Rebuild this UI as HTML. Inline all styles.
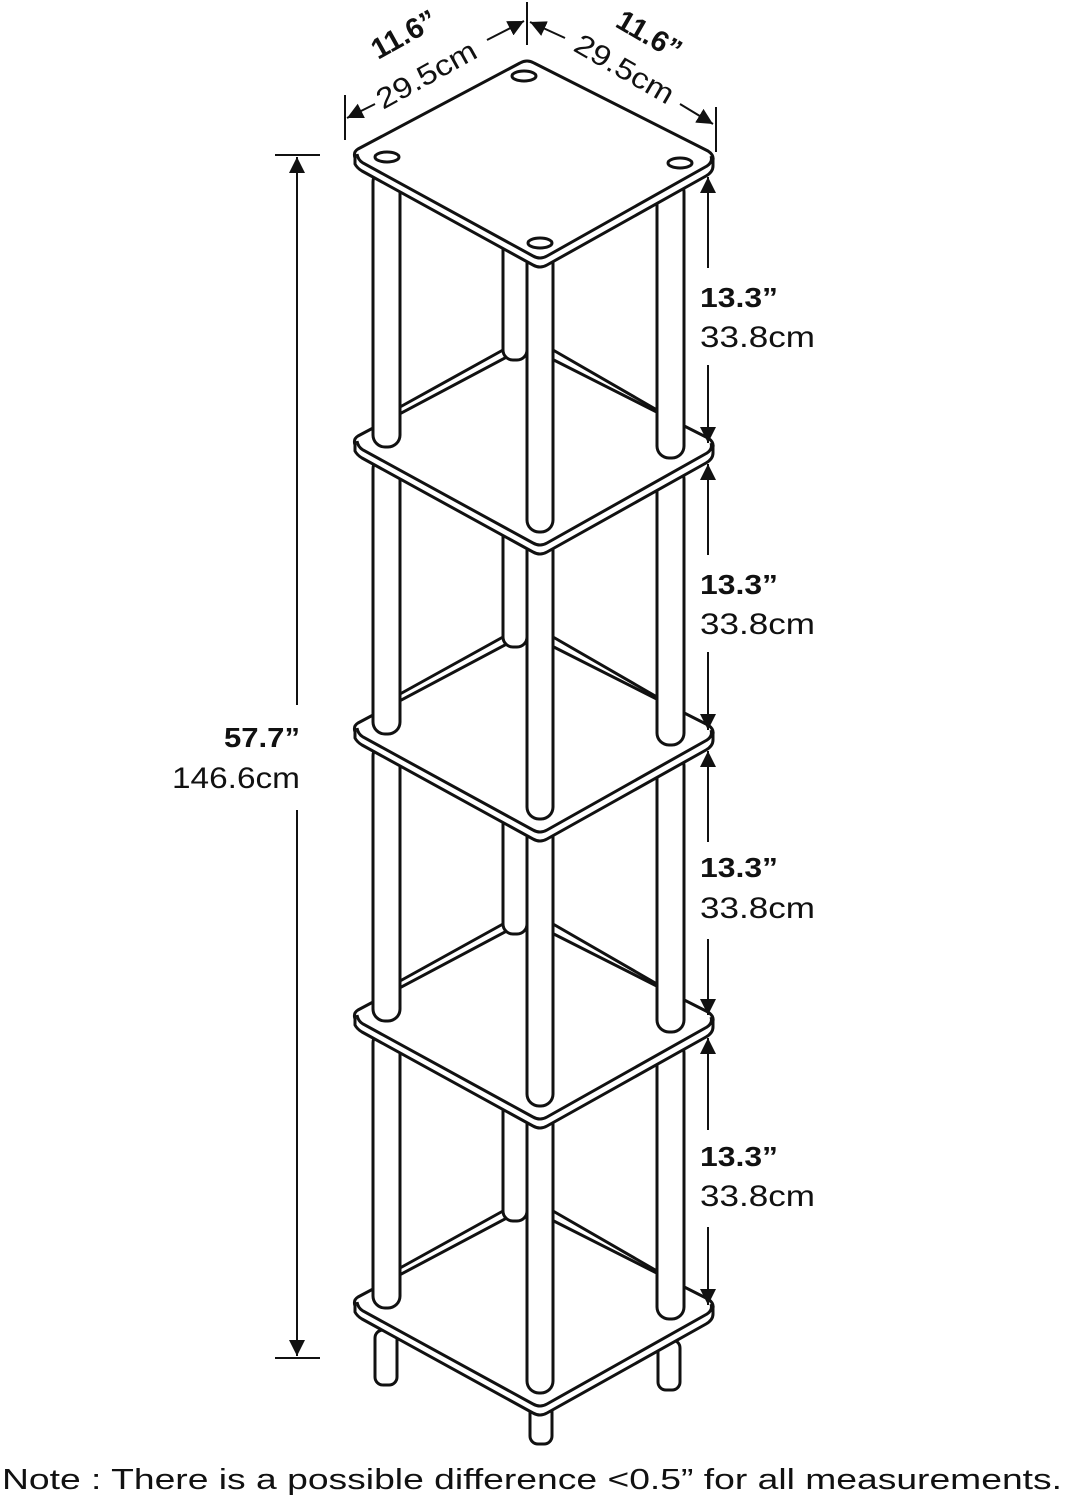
<!DOCTYPE html>
<html><head><meta charset="utf-8"><style>
html,body{margin:0;padding:0;background:#fff;width:1067px;height:1500px;overflow:hidden}
svg{display:block}
text{font-family:"Liberation Sans",sans-serif;fill:#111}
</style></head><body>
<svg width="1067" height="1500" viewBox="0 0 1067 1500" xmlns="http://www.w3.org/2000/svg">
<defs>
<g id="shelf">
 <path d="M358,149 Q353,152 355,158 L355,164 Q357,168 362,171 L533,265 Q540,269 547,265 L706,176 Q713,172 713,166 L713,160 Q714,155 708,151 L534,63 Q527,59 520,63 Z" fill="#fff" stroke="#111" stroke-width="3" stroke-linejoin="round"/>
 <path d="M357,154 Q358,160 363,163 L533,256 Q540,260 547,256 L707,166 Q713,162 711,156" fill="none" stroke="#111" stroke-width="3"/>
</g>
<g id="lvl">
 <path d="M400,407 L503,350 M553,350 L657,410" stroke="#111" stroke-width="3" fill="none"/>
 <rect x="503" y="210" width="24" height="150" rx="10" fill="#fff" stroke="#111" stroke-width="3"/>
 <rect x="373" y="170" width="27" height="277" rx="12" fill="#fff" stroke="#111" stroke-width="3"/>
 <rect x="657" y="180" width="27" height="278" rx="12" fill="#fff" stroke="#111" stroke-width="3"/>
 <rect x="527" y="250" width="26" height="282" rx="12" fill="#fff" stroke="#111" stroke-width="3"/>
 <use href="#shelf"/>
</g>
<marker id="ah" viewBox="0 0 10 10" refX="10" refY="5" markerWidth="8" markerHeight="8" orient="auto-start-reverse"><path d="M0,0 L10,5 L0,10 Z" fill="#111"/></marker>
</defs>

<rect x="375" y="1330" width="22" height="55" rx="8" fill="#fff" stroke="#111" stroke-width="3"/>
<rect x="658" y="1340" width="22" height="50" rx="8" fill="#fff" stroke="#111" stroke-width="3"/>
<rect x="530" y="1400" width="22" height="44" rx="8" fill="#fff" stroke="#111" stroke-width="3"/>

<use href="#shelf" y="1148"/>
<use href="#lvl" y="861"/>
<use href="#lvl" y="574"/>
<use href="#lvl" y="287"/>
<use href="#lvl"/>
<ellipse cx="387" cy="157" rx="12" ry="5" fill="#fff" stroke="#111" stroke-width="3"/>
<ellipse cx="524" cy="76" rx="12" ry="5" fill="#fff" stroke="#111" stroke-width="3"/>
<ellipse cx="680" cy="163" rx="12" ry="5" fill="#fff" stroke="#111" stroke-width="3"/>
<ellipse cx="540" cy="243" rx="12" ry="5" fill="#fff" stroke="#111" stroke-width="3"/>

<g stroke="#111" stroke-width="2">
 <line x1="275" y1="155" x2="320" y2="155"/>
 <line x1="275" y1="1358" x2="320" y2="1358"/>
 <line x1="297" y1="157" x2="297" y2="705" marker-start="url(#ah)"/>
 <line x1="297" y1="810" x2="297" y2="1356" marker-end="url(#ah)"/>
</g>
<text x="224" y="747" font-size="28" font-weight="bold" textLength="76" lengthAdjust="spacingAndGlyphs">57.7”</text>
<text x="172" y="788" font-size="30" textLength="128" lengthAdjust="spacingAndGlyphs">146.6cm</text>

<g stroke="#111" stroke-width="2" fill="none">
 <line x1="708" y1="177" x2="708" y2="268" marker-start="url(#ah)"/>
 <line x1="708" y1="365" x2="708" y2="443" marker-end="url(#ah)"/>
 <line x1="708" y1="464" x2="708" y2="555" marker-start="url(#ah)"/>
 <line x1="708" y1="652" x2="708" y2="730" marker-end="url(#ah)"/>
 <line x1="708" y1="751" x2="708" y2="842" marker-start="url(#ah)"/>
 <line x1="708" y1="939" x2="708" y2="1015" marker-end="url(#ah)"/>
 <line x1="708" y1="1038" x2="708" y2="1130" marker-start="url(#ah)"/>
 <line x1="708" y1="1227" x2="708" y2="1305" marker-end="url(#ah)"/>
</g>
<g font-size="28">
 <text x="700" y="307" font-weight="bold" textLength="78" lengthAdjust="spacingAndGlyphs">13.3”</text><text x="700" y="347" font-size="30" textLength="115" lengthAdjust="spacingAndGlyphs">33.8cm</text>
 <text x="700" y="594" font-weight="bold" textLength="78" lengthAdjust="spacingAndGlyphs">13.3”</text><text x="700" y="634" font-size="30" textLength="115" lengthAdjust="spacingAndGlyphs">33.8cm</text>
 <text x="700" y="877" font-weight="bold" textLength="78" lengthAdjust="spacingAndGlyphs">13.3”</text><text x="700" y="918" font-size="30" textLength="115" lengthAdjust="spacingAndGlyphs">33.8cm</text>
 <text x="700" y="1166" font-weight="bold" textLength="78" lengthAdjust="spacingAndGlyphs">13.3”</text><text x="700" y="1206" font-size="30" textLength="115" lengthAdjust="spacingAndGlyphs">33.8cm</text>
</g>

<g stroke="#111" stroke-width="2" fill="none">
 <line x1="527" y1="2" x2="527" y2="45"/>
 <line x1="345" y1="95" x2="345" y2="140"/>
 <line x1="716" y1="107" x2="716" y2="152"/>
 <line x1="375" y1="104" x2="347" y2="118" marker-end="url(#ah)"/>
 <line x1="487" y1="40" x2="524" y2="21" marker-end="url(#ah)"/>
 <line x1="565" y1="38" x2="530" y2="22" marker-end="url(#ah)"/>
 <line x1="680" y1="104" x2="713" y2="124" marker-end="url(#ah)"/>
</g>
<text transform="translate(383,110) rotate(-29)" font-size="29" textLength="110" lengthAdjust="spacingAndGlyphs">29.5cm</text>
<text transform="translate(378,60) rotate(-29)" font-size="29" font-weight="bold" textLength="70" lengthAdjust="spacingAndGlyphs">11.6”</text>
<text transform="translate(572,50) rotate(30)" font-size="29" textLength="110" lengthAdjust="spacingAndGlyphs">29.5cm</text>
<text transform="translate(614,26) rotate(30)" font-size="29" font-weight="bold" textLength="70" lengthAdjust="spacingAndGlyphs">11.6”</text>

<text x="2" y="1489" font-size="29" textLength="1060" lengthAdjust="spacingAndGlyphs">Note : There is a possible difference &lt;0.5” for all measurements.</text>
</svg>
</body></html>
